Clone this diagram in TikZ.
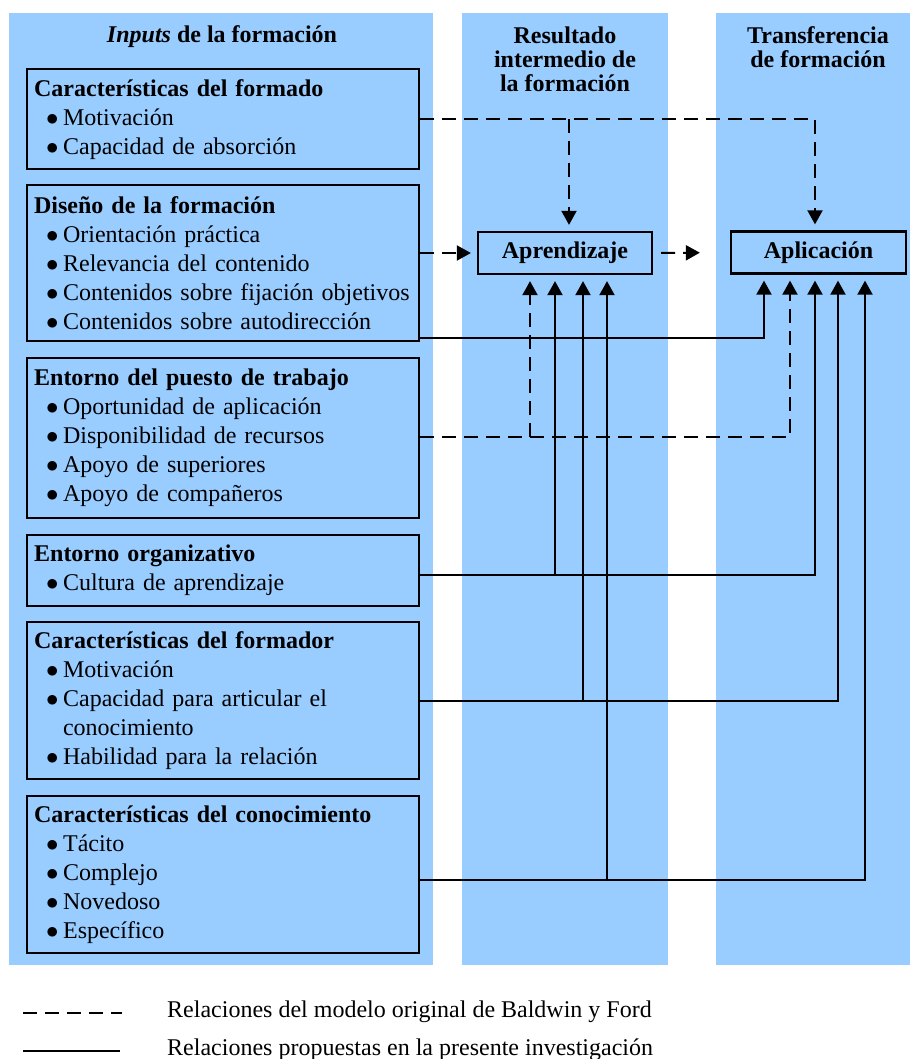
\documentclass[tikz,border=0pt]{standalone}
\usepackage{fontspec}
\setmainfont{Liberation Serif}
\usetikzlibrary{arrows.meta}
\definecolor{panel}{HTML}{99CCFF}
\newcommand{\itm}[1]{\mbox{\hspace*{12pt}$\bullet$\hspace{4.5pt}#1}}
\newcommand{\cont}[1]{\mbox{\hspace*{12pt}\phantom{$\bullet$}\hspace{4.5pt}#1}}

\begin{document}
\begin{tikzpicture}[x=1pt,y=-1pt,font=\fontsize{24}{29}\selectfont,
    lbox/.style={draw,line width=2.3pt,fill=panel,text width=378pt,inner xsep=7pt,inner ysep=2pt,
      align=left,minimum width=392pt,anchor=north west},
    rbox/.style={draw,line width=2.3pt,fill=panel,minimum width=175pt,minimum height=42pt,
      font=\fontsize{24}{29}\selectfont\bfseries},
    hd/.style={align=center,font=\fontsize{24}{24}\selectfont\bfseries},
    arr/.style={line width=2pt,-{Triangle[length=14pt,width=15pt]},shorten >=6pt},
    dsh/.style={dash pattern=on 14pt off 8pt}]
  \useasboundingbox (0,0) rectangle (910,1059);
  % columns
  \fill[panel] (9,13) rectangle (433,965);
  \fill[panel] (462,13) rectangle (668,965);
  \fill[panel] (716,13) rectangle (910,965);
  \node[hd] (hin) at (222,37) {\textit{Inputs} de la formación};
  \node[hd] (hres) at (565,59) {Resultado\\intermedio de\\la formación};
  \node[hd] (htr) at (818,47) {Transferencia\\de formación};
  % inputs
  \node[lbox,minimum height=100pt] (b1) at (26,68) {\textbf{Características del formado}\\
    \itm{Motivación}\\\itm{Capacidad de absorción}};
  \node[lbox,minimum height=156pt] (b2) at (26,184) {\textbf{Diseño de la formación}\\
    \itm{Orientación práctica}\\\itm{Relevancia del contenido}\\
    \itm{Contenidos sobre fijación objetivos}\\\itm{Contenidos sobre autodirección}};
  \node[lbox,minimum height=160pt] (b3) at (26,357) {\textbf{Entorno del puesto de trabajo}\\
    \itm{Oportunidad de aplicación}\\\itm{Disponibilidad de recursos}\\
    \itm{Apoyo de superiores}\\\itm{Apoyo de compañeros}};
  \node[lbox,minimum height=71pt] (b4) at (26,534) {\textbf{Entorno organizativo}\\
    \itm{Cultura de aprendizaje}};
  \node[lbox,minimum height=157pt] (b5) at (26,621) {\textbf{Características del formador}\\
    \itm{Motivación}\\\itm{Capacidad para articular el}\\\cont{conocimiento}\\
    \itm{Habilidad para la relación}};
  \node[lbox,minimum height=157pt] (b6) at (26,795) {\textbf{Características del conocimiento}\\
    \itm{Tácito}\\\itm{Complejo}\\\itm{Novedoso}\\\itm{Específico}};
  % results
  \node[rbox,minimum width=174pt] (apr) at (565,253) {Aprendizaje};
  \node[rbox] (apl) at (818.5,252.5) {Aplicación};
  % junctions
  \coordinate (j1) at (569,119);
  \coordinate (j3) at (530,437);
  \coordinate (j4) at (555,575);
  \coordinate (j5) at (583,701);
  \coordinate (j6) at (607,880);
  % Baldwin y Ford
  \draw[arr,dsh] (b1.east |- j1) -| (apl.north -| 815,0);
  \draw[arr,dsh] (j1) -- (apr.north -| j1);
  \draw[arr,dsh] (b2.east |- 0,253) -- (apr.west);
  \draw[arr,dsh,shorten <=8pt,shorten >=30pt] (apr.east) -- (apl.west);
  \draw[arr,dsh] (b3.east |- j3) -| (apl.south -| 790,0);
  \draw[arr,dsh] (j3) -- (apr.south -| j3);
  % propuestas
  \draw[arr] (b2.east |- 0,338) -| (apl.south -| 764,0);
  \draw[arr] (b4.east |- j4) -| (apl.south -| 815,0);
  \draw[arr] (j4) -- (apr.south -| j4);
  \draw[arr] (b5.east |- j5) -| (apl.south -| 838,0);
  \draw[arr] (j5) -- (apr.south -| j5);
  \draw[arr] (b6.east |- j6) -| (apl.south -| 865,0);
  \draw[arr] (j6) -- (apr.south -| j6);
  % legend
  \draw[line width=2pt,dsh] (23,1013) -- (122,1013);
  \draw[line width=2pt] (23,1051) -- (120,1051);
  \node[anchor=west,inner sep=0pt] (l1) at (167,1012) {Relaciones del modelo original de Baldwin y Ford};
  \node[anchor=west,inner sep=0pt] (l2) at (167,1050) {Relaciones propuestas en la presente investigación};
\end{tikzpicture}
\end{document}
